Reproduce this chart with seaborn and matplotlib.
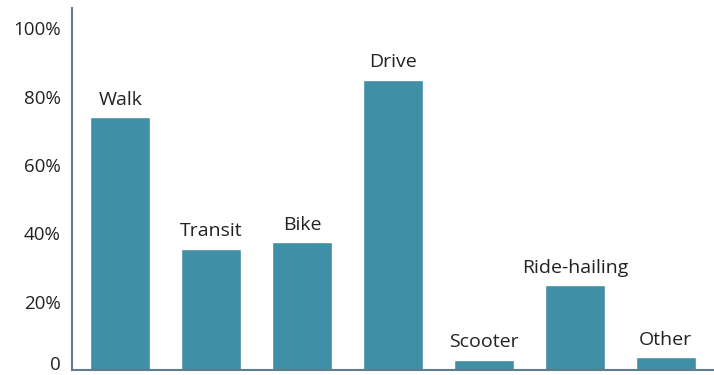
import matplotlib
matplotlib.use("Agg")
import matplotlib.pyplot as plt
import matplotlib.transforms as mtransforms
import seaborn as sns
import pandas as pd

modes = ["Walk", "Transit", "Bike", "Drive", "Scooter", "Ride-hailing", "Other"]
shares = [74, 35.5, 37.5, 85, 3.0, 24.8, 3.8]
y_ticks = [0, 20, 40, 60, 80, 100]
y_tick_labels = ["0", "20%", "40%", "60%", "80%", "100%"]

df = pd.DataFrame({"mode": modes, "share": shares})

sns.set_theme(style="white")
plt.rcParams["font.family"] = ["Open Sans", "DejaVu Sans"]

fig = plt.figure(figsize=(7.14, 3.75), dpi=100)
ax = fig.add_axes([72 / 714, (375 - 370) / 375, (714 - 72) / 714, (370 - 8) / 375])

sns.barplot(data=df, x="mode", y="share", color="#3f8fa6", saturation=1,
            width=0.66, ax=ax)

ax.set_xlim(-0.53, 6.53)
ax.set_ylim(0, 106)
ax.set_yticks(y_ticks)
ax.set_yticklabels(y_tick_labels, fontsize=13.5, color="#222222", fontweight="medium")
ax.set_xticks([])
ax.set_xlabel("")
ax.set_ylabel("")
ax.tick_params(axis="y", length=0, pad=8)

# nudge the "0" label up slightly so it stays inside the figure
lbl0 = ax.get_yticklabels()[0]
lbl0.set_transform(lbl0.get_transform() + mtransforms.ScaledTranslation(0, 5 / 72, fig.dpi_scale_trans))

for s in ["top", "right"]:
    ax.spines[s].set_visible(False)
for s in ["left", "bottom"]:
    ax.spines[s].set_color("#5f7d8c")
    ax.spines[s].set_linewidth(1.5)

for i, (m, v) in enumerate(zip(modes, shares)):
    ax.annotate(m, (i, v), xytext=(0, 6), textcoords="offset points",
                ha="center", va="bottom", fontsize=14, color="#222222",
                fontweight="medium")

fig.savefig("out.png", dpi=100)
